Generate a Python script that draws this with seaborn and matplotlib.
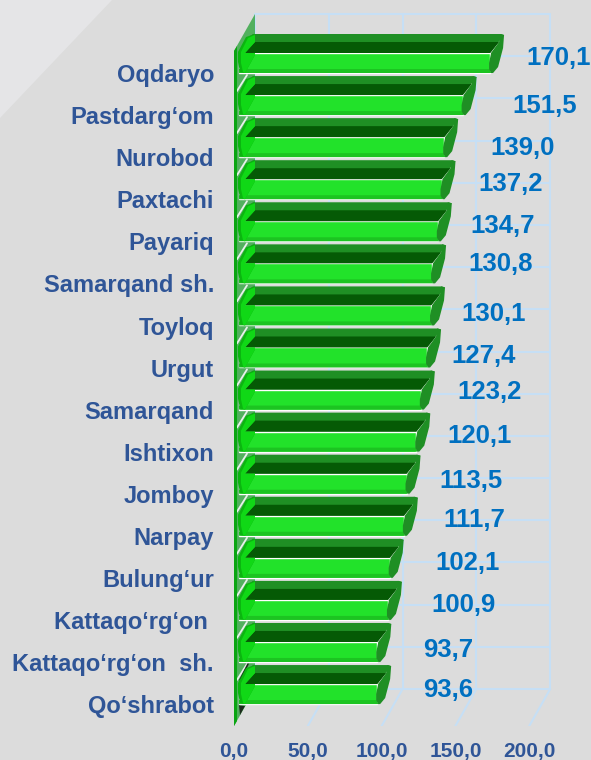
import matplotlib
matplotlib.use("Agg")
import matplotlib.pyplot as plt
from matplotlib.patches import Polygon
from matplotlib.transforms import Affine2D, IdentityTransform
import pandas as pd
import seaborn as sns

districts = ["Oqdaryo", "Pastdarg‘om", "Nurobod", "Paxtachi", "Payariq", "Samarqand sh.",
             "Toyloq", "Urgut", "Samarqand", "Ishtixon", "Jomboy", "Narpay", "Bulung‘ur",
             "Kattaqo‘rg‘on ", "Kattaqo‘rg‘on  sh.", "Qo‘shrabot"]
values = [170.1, 151.5, 139.0, 137.2, 134.7, 130.8, 130.1, 127.4,
          123.2, 120.1, 113.5, 111.7, 102.1, 100.9, 93.7, 93.6]
x_ticks = [0, 50, 100, 150, 200]

# hand placed value labels, pixels away from the bar end
label_dx = [74, 87, 83, 74.5, 70, 74, 68, 62, 74, 68, 69.5, 75, 83, 81, 76, 76]
label_dy = [-5, 1, 1, -5, -5, -9, -1, -1.5, -8, -6, -3, -6, -5, -5, -2, -4]

W, H = 591, 760
BG = "#dcdcdc"
GRID = "#c6dff5"
LABEL = "#2f5597"
VALUE = "#0070c0"
BODY = "#22e22a"
BAND = "#1f8f24"
DARK = "#055a05"

sns.set_theme(style="white")
plt.rcParams["font.family"] = ["Liberation Sans", "DejaVu Sans"]

fig = plt.figure(figsize=(W / 100, H / 100), dpi=100, facecolor=BG)

# lighter corner of the slide background
bg = fig.add_axes([0, 0, 1, 1], zorder=0)
bg.set_xlim(0, W)
bg.set_ylim(H, 0)
bg.axis("off")
bg.add_patch(Polygon([(0, 0), (112, 0), (0, 118)], color="#e5e5e7", lw=0))

left, right, bottom = 234, 560, 726
ax = fig.add_axes([left / W, 1 - bottom / H, (right - left) / W, bottom / H], zorder=1)
ax.patch.set_alpha(0)

df = pd.DataFrame({"district": districts, "value": values})
sns.barplot(data=df, y="district", x="value", orient="h", color=BODY, saturation=1,
            width=0.475, ax=ax, zorder=5)

ax.set_xlim(0, (right - left) / 1.476)
ax.set_ylim((bottom - 63) / 42.07, -63 / 42.07)
for s in ax.spines.values():
    s.set_visible(False)
ax.set_xlabel("")
ax.set_ylabel("")
ax.set_xticks(x_ticks)
ax.set_xticklabels([f"{t},0" for t in x_ticks], fontsize=15, fontweight="bold", color=LABEL)
ax.set_yticks([i + 0.24 for i in range(len(districts))])
ax.set_yticklabels(districts, fontsize=17, fontweight="bold", color=LABEL)
ax.tick_params(axis="x", length=0, pad=11.5)
ax.tick_params(axis="y", length=0, pad=14.4)
ax.grid(False)


def px(v, i, dx=0, dy=0):
    x, y = ax.transData.transform((v, i))
    return (x + dx, y - dy)


def poly(points, color, z, alpha=1):
    ax.add_patch(Polygon(points, closed=True, facecolor=color, edgecolor="none", alpha=alpha,
                         transform=IdentityTransform(), zorder=z, clip_on=False))


# back wall and floor grid
depth_x = 21 / 1.476
top_row = (14 - 63) / 42.07
floor_row = (689 - 63) / 42.07
for t in x_ticks:
    ax.plot([t + depth_x] * 2, [top_row, floor_row], color=GRID, lw=1.5, zorder=1, clip_on=False)
    if t:
        ax.plot([t, t + depth_x], [(bottom - 63) / 42.07, floor_row], color=GRID, lw=1.5, zorder=1)
for j in range(17):
    row = top_row + j * (floor_row - top_row) / 16
    ax.plot([depth_x, x_ticks[-1] + depth_x], [row, row], color=GRID, lw=1.5, zorder=1)

# green side wall
poly([px(0, top_row, 0, 37), px(0, top_row, 21, 0), px(0, floor_row, 21, 0), px(0, floor_row, 0, 37)],
     "#2fa53f", 2, alpha=0.8)
poly([px(0, top_row, 0, 37), px(0, top_row, 3, 32), px(0, floor_row, 3, 32), px(0, floor_row, 0, 37)],
     "#0aa512", 7)

# shift the seaborn bars so the rounded start sits just off the wall
for bar in ax.containers[0]:
    bar.set_transform(ax.transData + Affine2D().translate(5, 0))

# 3D cylinder look drawn around each bar
for i, v in enumerate(values):
    # upper band
    poly([px(0, i, 6, -10), px(0, i, 16, -27), px(0, i, 19, -29),
          px(v, i, 16, -29), px(v, i, 19, -28), px(v, i, 5, -10)], BAND, 4)
    # dark inner strip
    poly([px(0, i, 11, -10), px(0, i, 21, -21), px(v, i, 14, -21), px(v, i, 5, -10)], DARK, 6)
    # bottom shading on the body
    poly([px(0, i, 5, 6), px(v, i, 5, 6), px(v, i, 6, 10), px(0, i, 5, 10)], "#1cc421", 6)
    # end cap in front of the body
    poly([px(v, i, 6, -10), px(v, i, 14, -21), px(v, i, 15, -29), px(v, i, 19, -28), px(v, i, 18, -15),
          px(v, i, 13, 4), px(v, i, 8, 10), px(v, i, 6, 10), px(v, i, 4, 6), px(v, i, 4, 0)], BAND, 6.2)
    # rounded start of the bar, darker rim then brighter inside
    poly([px(0, i, 21, -29), px(0, i, 12, -26), px(0, i, 4, -11), px(0, i, 4, -1), px(0, i, 6, 9),
          px(0, i, 11, 10), px(0, i, 21, -8), px(0, i, 21, -10), px(0, i, 11, -10), px(0, i, 21, -21)],
         "#0bb510", 6.4)
    poly([px(0, i, 21, -28), px(0, i, 14, -25), px(0, i, 7, -11), px(0, i, 7, 0), px(0, i, 9, 9),
          px(0, i, 11, 10), px(0, i, 21, -8), px(0, i, 21, -10), px(0, i, 11, -10), px(0, i, 21, -21)],
         "#10d816", 6.5)
    # white edge on the wall between two bars
    if i < len(values) - 1:
        ax.plot(*zip(px(0, i, 3, 28), px(0, i, 13, 12)), color="#e8f2ea", lw=1.3, zorder=3,
                transform=IdentityTransform(), clip_on=False)
    ax.annotate(f"{v:.1f}".replace(".", ","), xy=(v, i), xycoords="data",
                xytext=(label_dx[i], -label_dy[i]), textcoords="offset pixels",
                ha="center", va="center", fontsize=18.5, fontweight="bold", color=VALUE,
                zorder=9, annotation_clip=False)

# dark slivers of the wall near the last bars
last = len(values) - 1
ax.plot(*zip(px(0, last - 1, 6, 28), px(0, last - 1, 14, 12)), color="#1c2a1c", lw=1.2, zorder=3,
        transform=IdentityTransform(), clip_on=False)
poly([px(0, last, 5, 11), px(0, last, 11, 12), px(0, last, 6, 21)], "#1c2a1c", 3)

fig.savefig("out.png", dpi=100, facecolor=BG)
